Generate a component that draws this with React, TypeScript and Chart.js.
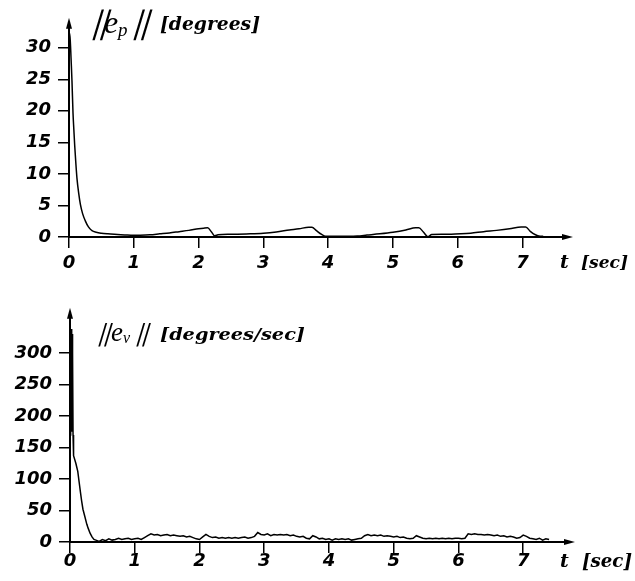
import React, { useEffect, useRef } from "react";
import { Chart, registerables } from "chart.js";

Chart.register(...registerables);

// ---------- data ----------
const T_TICKS = [0, 1, 2, 3, 4, 5, 6, 7];
const EP_TICKS = [0, 5, 10, 15, 20, 25, 30];
const EV_TICKS = [0, 50, 100, 150, 200, 250, 300];

// ||e_p|| [degrees]
const EP_T = [0, 0.01, 0.02, 0.035, 0.046, 0.062, 0.075, 0.088, 0.105, 0.123, 0.15, 0.175, 0.21, 0.25, 0.3, 0.355, 0.42, 0.5, 0.6, 0.75, 0.9, 1.0, 1.1, 1.25, 1.4, 1.55, 1.7, 1.85, 2.0, 2.08, 2.14, 2.2, 2.25, 2.3, 2.45, 2.6, 2.8, 3.0, 3.2, 3.4, 3.55, 3.7, 3.75, 3.82, 3.9, 3.96, 4.1, 4.3, 4.45, 4.6, 4.8, 5.0, 5.2, 5.35, 5.4, 5.47, 5.54, 5.6, 5.75, 5.9, 6.05, 6.2, 6.4, 6.6, 6.8, 6.98, 7.05, 7.12, 7.2, 7.27, 7.32];
const EP_V = [30.5, 32.3, 31, 27.5, 24.7, 19.6, 17, 14.5, 11.8, 9.3, 6.9, 5.2, 3.7, 2.6, 1.6, 1.0, 0.75, 0.6, 0.5, 0.4, 0.3, 0.27, 0.28, 0.35, 0.5, 0.65, 0.85, 1.05, 1.3, 1.4, 1.45, 0.8, 0.2, 0.35, 0.45, 0.45, 0.5, 0.6, 0.8, 1.1, 1.3, 1.55, 1.55, 1.0, 0.4, 0.12, 0.12, 0.12, 0.15, 0.3, 0.5, 0.75, 1.1, 1.45, 1.45, 0.8, 0.05, 0.4, 0.45, 0.45, 0.5, 0.6, 0.85, 1.05, 1.3, 1.6, 1.6, 0.9, 0.35, 0.12, 0.1];

// ||e_v|| [degrees/sec]
const EV_T = [0, 0.01, 0.02, 0.023, 0.026, 0.029, 0.032, 0.035, 0.038, 0.041, 0.044, 0.047, 0.05, 0.06, 0.09, 0.12, 0.14, 0.16, 0.18, 0.2, 0.23, 0.26, 0.28, 0.31, 0.34, 0.37,
  0.40, 0.45, 0.50, 0.55, 0.60, 0.65, 0.70, 0.75, 0.80, 0.85, 0.90, 0.95, 1.00, 1.05, 1.10, 1.15, 1.20, 1.25, 1.30, 1.35, 1.40, 1.45, 1.50, 1.55, 1.60, 1.65, 1.70, 1.75, 1.80, 1.85, 1.90, 1.95,
  2.00, 2.05, 2.10, 2.15, 2.20, 2.25, 2.30, 2.35, 2.40, 2.45, 2.50, 2.55, 2.60, 2.65, 2.70, 2.75, 2.80, 2.85, 2.90, 2.95,
  3.00, 3.05, 3.10, 3.15, 3.20, 3.25, 3.30, 3.35, 3.40, 3.45, 3.50, 3.55, 3.60, 3.65, 3.70, 3.75, 3.80, 3.85, 3.90, 3.95,
  4.00, 4.05, 4.10, 4.15, 4.20, 4.25, 4.30, 4.35, 4.40, 4.45, 4.50, 4.55, 4.60, 4.65, 4.70, 4.75, 4.80, 4.85, 4.90, 4.95,
  5.00, 5.05, 5.10, 5.15, 5.20, 5.25, 5.30, 5.35, 5.40, 5.45, 5.50, 5.55, 5.60, 5.65, 5.70, 5.75, 5.80, 5.85, 5.90, 5.95,
  6.00, 6.05, 6.10, 6.15, 6.20, 6.25, 6.30, 6.35, 6.40, 6.45, 6.50, 6.55, 6.60, 6.65, 6.70, 6.75, 6.80, 6.85, 6.90, 6.95,
  7.00, 7.05, 7.10, 7.15, 7.20, 7.25, 7.30, 7.35, 7.40];
const EV_V = [170, 230, 338, 175, 335, 180, 330, 185, 320, 190, 300, 170, 150, 137, 125, 112, 96, 80, 65, 52, 40, 28, 22, 14, 8, 4,
  3, 1, 4, 2, 5, 3, 4, 6, 4, 5, 6, 4, 5, 6, 4, 7, 10, 13, 11, 12, 10, 11, 12, 10, 11, 10, 9, 10, 8, 9, 7, 5,
  4, 8, 12, 9, 7, 8, 6, 7, 6, 7, 6, 7, 6, 7, 8, 6, 7, 9, 15, 12,
  11, 13, 10, 12, 11, 12, 11, 12, 10, 11, 9, 8, 9, 6, 5, 10, 8, 5, 6, 4,
  5, 3, 5, 4, 5, 4, 5, 3, 4, 5, 6, 10, 12, 10, 11, 10, 11, 9, 10, 9,
  8, 9, 7, 8, 6, 5, 6, 10, 8, 6, 5, 6, 5, 6, 5, 6, 5, 6, 5, 6,
  6, 5, 6, 13, 12, 13, 12, 12, 11, 12, 11, 10, 11, 9, 10, 8, 9, 8, 6, 7,
  11, 9, 6, 5, 4, 6, 3, 5, 4];

// ---------- helpers ----------
const TICK_FONT = { family: "DejaVu Sans", size: 18, style: "italic" as const, weight: "bold" as const };

type Part = { text: string; font: string; x: number; y: number; w?: number; skew?: number };

function drawParts(ctx: CanvasRenderingContext2D, parts: Part[]) {
  ctx.save();
  ctx.fillStyle = "#000";
  ctx.textBaseline = "alphabetic";
  ctx.textAlign = "left";
  for (const p of parts) {
    ctx.font = p.font;
    const m = ctx.measureText(p.text).width;
    ctx.save();
    ctx.translate(p.x, p.y);
    if (p.skew) ctx.transform(1, 0, -p.skew, 1, 0, 0);
    if (p.w) ctx.scale(p.w / m, 1);
    ctx.fillText(p.text, 0, 0);
    ctx.restore();
  }
  ctx.restore();
}

const decorPlugin = {
  id: "decor",
  afterDraw(chart: any, _args: any, opts: any) {
    const { ctx, chartArea, scales } = chart;
    const x0 = scales.x.getPixelForValue(0);
    const y0 = scales.y.getPixelForValue(0);
    ctx.save();
    ctx.strokeStyle = "#000";
    ctx.fillStyle = "#000";
    ctx.lineWidth = 2;
    // y axis
    ctx.beginPath();
    ctx.moveTo(x0, y0);
    ctx.lineTo(x0, chartArea.top + 6);
    ctx.stroke();
    ctx.beginPath();
    ctx.moveTo(x0, chartArea.top);
    ctx.lineTo(x0 - 3, chartArea.top + 11);
    ctx.lineTo(x0 + 3, chartArea.top + 11);
    ctx.closePath();
    ctx.fill();
    // x axis
    ctx.beginPath();
    ctx.moveTo(x0, y0);
    ctx.lineTo(chartArea.right - 6, y0);
    ctx.stroke();
    ctx.beginPath();
    ctx.moveTo(chartArea.right, y0);
    ctx.lineTo(chartArea.right - 11, y0 - 3);
    ctx.lineTo(chartArea.right - 11, y0 + 3);
    ctx.closePath();
    ctx.fill();
    ctx.restore();
    if (opts && opts.parts) drawParts(ctx, opts.parts);
  },
};

function makeChart(
  canvas: HTMLCanvasElement,
  T: number[],
  V: number[],
  yTicks: number[],
  yMax: number,
  xMax: number,
  yWidth: number,
  xHeight: number,
  padRight: number,
  xPad: number,
  tension: number,
  parts: Part[]
) {
  return new Chart(canvas, {
    type: "line",
    data: {
      datasets: [
        {
          data: T.map((t, i) => ({ x: t, y: V[i] })),
          borderColor: "#000",
          borderWidth: 1.5,
          pointRadius: 0,
          tension,
          cubicInterpolationMode: tension > 0 ? "monotone" : "default",
          fill: false,
        },
      ],
    },
    options: {
      responsive: false,
      devicePixelRatio: 1,
      animation: false,
      layout: { padding: { top: 12, right: padRight, left: 0, bottom: 0 } },
      plugins: {
        legend: { display: false },
        tooltip: { enabled: false },
        decor: { parts },
      } as any,
      scales: {
        x: {
          type: "linear",
          min: 0,
          max: xMax,
          afterBuildTicks: (s: any) => {
            s.ticks = T_TICKS.map((v) => ({ value: v }));
          },
          afterFit: (s: any) => {
            s.height = xHeight;
          },
          grid: { drawOnChartArea: false, drawTicks: true, tickLength: 11, color: "#000", lineWidth: 1.5 },
          border: { display: false },
          ticks: { color: "#000", font: TICK_FONT, padding: xPad, maxRotation: 0, autoSkip: false },
        },
        y: {
          type: "linear",
          min: 0,
          max: yMax,
          afterBuildTicks: (s: any) => {
            s.ticks = yTicks.map((v) => ({ value: v }));
          },
          afterFit: (s: any) => {
            s.width = yWidth;
          },
          grid: { drawOnChartArea: false, drawTicks: true, tickLength: 11, color: "#000", lineWidth: 1.5 },
          border: { display: false },
          ticks: { color: "#000", font: TICK_FONT, padding: 7, autoSkip: false },
        },
      },
    },
    plugins: [decorPlugin as any],
  });
}

export default function App() {
  const topRef = useRef<HTMLCanvasElement>(null);
  const botRef = useRef<HTMLCanvasElement>(null);

  useEffect(() => {
    const topParts: Part[] = [
      { text: "||", font: 'bold 34px "Liberation Serif"', x: 92, y: 33, skew: 0.3 },
      { text: "e", font: 'italic 32px "Liberation Serif"', x: 104, y: 33 },
      { text: "p", font: 'italic 19px "Liberation Serif"', x: 118, y: 36 },
      { text: "||", font: 'bold 34px "Liberation Serif"', x: 133, y: 33, skew: 0.3 },
      { text: "[degrees]", font: 'italic bold 18px "DejaVu Serif"', x: 160, y: 30, w: 100 },
      { text: "t", font: 'italic bold 19px "DejaVu Serif"', x: 560, y: 268 },
      { text: "[sec]", font: 'italic bold 17px "DejaVu Serif"', x: 581, y: 268, w: 47 },
    ];
    const botParts: Part[] = [
      { text: "||", font: 'bold 26px "Liberation Serif"', x: 98, y: 341, skew: 0.3 },
      { text: "e", font: 'italic 27px "Liberation Serif"', x: 111, y: 341 },
      { text: "v", font: 'italic 16px "Liberation Serif"', x: 123, y: 343 },
      { text: "||", font: 'bold 26px "Liberation Serif"', x: 136, y: 341, skew: 0.3 },
      { text: "[degrees/sec]", font: 'italic bold 17px "DejaVu Serif"', x: 160, y: 340, w: 145 },
      { text: "t", font: 'italic bold 19px "DejaVu Serif"', x: 560, y: 567 },
      { text: "[sec]", font: 'italic bold 18px "DejaVu Serif"', x: 582, y: 567, w: 50 },
    ].map((p) => ({ ...p, y: p.y - 290 }));
    const c1 = makeChart(topRef.current!, EP_T, EP_V, EP_TICKS, 34.74, 7.78, 69, 53, 62, 5, 0.3, topParts);
    const c2 = makeChart(botRef.current!, EV_T, EV_V, EV_TICKS, 371.7, 7.8, 70, 39, 60, -2, 0, botParts);
    return () => {
      c1.destroy();
      c2.destroy();
    };
  }, []);

  return (
    <div style={{ position: "fixed", left: 0, top: 0, width: 635, height: 581, background: "#fff" }}>
      <canvas
        ref={topRef}
        width={635}
        height={290}
        style={{ position: "absolute", left: 0, top: 0, width: 635, height: 290 }}
      />
      <canvas
        ref={botRef}
        width={635}
        height={291}
        style={{ position: "absolute", left: 0, top: 290, width: 635, height: 291 }}
      />
    </div>
  );
}
